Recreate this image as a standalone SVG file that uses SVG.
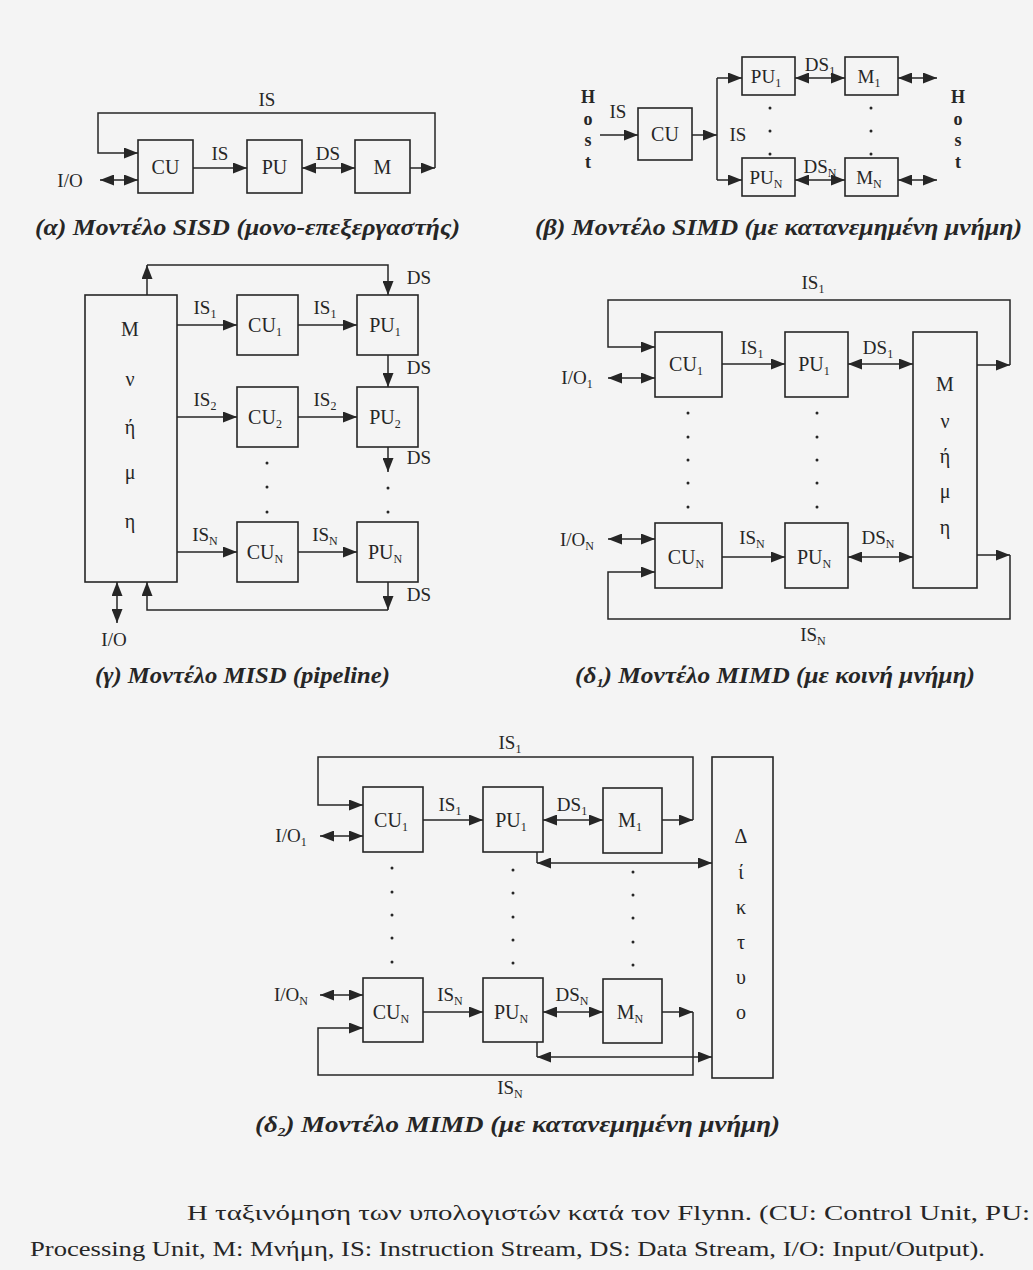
<svg xmlns="http://www.w3.org/2000/svg" width="1033" height="1270" viewBox="0 0 1033 1270">
<style>
.bx{fill:none;stroke:#262626;stroke-width:1.6}
.ln{fill:none;stroke:#262626;stroke-width:1.5}
.t{font-family:"Liberation Serif","Times New Roman",serif;font-size:19px;fill:#262626;text-anchor:middle}
.b{font-size:20px}
.h{font-family:"Liberation Serif","Times New Roman",serif;font-size:18px;font-weight:bold;fill:#262626;text-anchor:middle}
.cap{font-family:"Liberation Serif","Times New Roman",serif;font-size:23px;font-weight:bold;font-style:italic;fill:#262626}
.ft{font-family:"Liberation Serif","Times New Roman",serif;font-size:22px;fill:#262626}
.dot{fill:#262626}
</style>
<defs>
<marker id="a" viewBox="0 0 14 11" refX="14" refY="5.5" markerWidth="14" markerHeight="11" markerUnits="userSpaceOnUse" orient="auto-start-reverse">
<path d="M0,0 L14,5.5 L0,11 z" fill="#262626"/>
</marker>
</defs>
<rect width="1033" height="1270" fill="#f4f4f4"/>

<!-- (α) SISD -->
<g id="sisd">
<g id="a-cu"><rect class="bx" x="138" y="140" width="55" height="53"/><text class="t b" x="165.5" y="174">CU</text></g>
<g id="a-pu"><rect class="bx" x="247" y="140" width="55" height="53"/><text class="t b" x="274.5" y="174">PU</text></g>
<g id="a-m"><rect class="bx" x="355" y="140" width="55" height="53"/><text class="t b" x="382.5" y="174">M</text></g>
<g id="a-conn">
<path class="ln" d="M410,168 H435" marker-end="url(#a)"/>
<path class="ln" d="M435,168 V113 H98 V153 H138" marker-end="url(#a)"/>
<path class="ln" d="M193,168 H247" marker-end="url(#a)"/>
<path class="ln" d="M302,168 H355" marker-start="url(#a)" marker-end="url(#a)"/>
<path class="ln" d="M100,180 H138" marker-start="url(#a)" marker-end="url(#a)"/>
</g>
<text class="t" x="267" y="106">IS</text>
<text class="t" x="220" y="160">IS</text>
<text class="t" x="328" y="160">DS</text>
<text class="t" x="70" y="187">I/O</text>
<text class="cap" x="35" y="235" textLength="425" lengthAdjust="spacingAndGlyphs">(α) Μοντέλο SISD (μονο-επεξεργαστής)</text>
</g>

<!-- (β) SIMD -->
<g id="simd">
<g id="b-hostL"><text class="h" x="588" y="103">H</text><text class="h" x="588" y="125">o</text><text class="h" x="588" y="146">s</text><text class="h" x="588" y="168">t</text></g>
<g id="b-cu"><rect class="bx" x="638" y="108" width="54" height="52"/><text class="t b" x="665" y="141">CU</text></g>
<g id="b-pu1"><rect class="bx" x="742" y="57" width="53" height="38"/><text class="t" x="766" y="83">PU<tspan dy="4" font-size="12">1</tspan></text></g>
<g id="b-pun"><rect class="bx" x="742" y="158" width="53" height="38"/><text class="t" x="766" y="184">PU<tspan dy="4" font-size="12">N</tspan></text></g>
<g id="b-m1"><rect class="bx" x="845" y="57" width="53" height="38"/><text class="t" x="869" y="83">M<tspan dy="4" font-size="12">1</tspan></text></g>
<g id="b-mn"><rect class="bx" x="845" y="158" width="53" height="38"/><text class="t" x="869" y="184">M<tspan dy="4" font-size="12">N</tspan></text></g>
<g id="b-hostR"><text class="h" x="958" y="103">H</text><text class="h" x="958" y="125">o</text><text class="h" x="958" y="146">s</text><text class="h" x="958" y="168">t</text></g>
<g id="b-conn">
<path class="ln" d="M600,135 H638" marker-end="url(#a)"/>
<path class="ln" d="M692,135 H717" marker-end="url(#a)"/>
<path class="ln" d="M717,78 V180"/>
<path class="ln" d="M717,78 H742" marker-end="url(#a)"/>
<path class="ln" d="M717,180 H742" marker-end="url(#a)"/>
<path class="ln" d="M795,78 H845" marker-start="url(#a)" marker-end="url(#a)"/>
<path class="ln" d="M795,180 H845" marker-start="url(#a)" marker-end="url(#a)"/>
<path class="ln" d="M898,78 H937" marker-start="url(#a)" marker-end="url(#a)"/>
<path class="ln" d="M898,180 H937" marker-start="url(#a)" marker-end="url(#a)"/>
</g>
<text class="t" x="618" y="118">IS</text>
<text class="t" x="738" y="141">IS</text>
<text class="t" x="820" y="71">DS<tspan dy="4" font-size="12">1</tspan></text>
<text class="t" x="820" y="173">DS<tspan dy="4" font-size="12">N</tspan></text>
<circle class="dot" cx="770" cy="108" r="1.5"/><circle class="dot" cx="770" cy="131" r="1.5"/><circle class="dot" cx="770" cy="154" r="1.5"/>
<circle class="dot" cx="871" cy="108" r="1.5"/><circle class="dot" cx="871" cy="131" r="1.5"/><circle class="dot" cx="871" cy="154" r="1.5"/>
<text class="cap" x="535" y="235" textLength="487" lengthAdjust="spacingAndGlyphs">(β) Μοντέλο SIMD (με κατανεμημένη μνήμη)</text>
</g>

<!-- (γ) MISD -->
<g id="misd">
<g id="g-mem"><rect class="bx" x="85" y="295" width="92" height="287"/>
<text class="t b" x="130" y="336">M</text><text class="t b" x="130" y="386">ν</text><text class="t b" x="130" y="434">ή</text><text class="t b" x="130" y="479">μ</text><text class="t b" x="130" y="528">η</text></g>
<g id="g-cu1"><rect class="bx" x="237" y="295" width="61" height="60"/><text class="t b" x="265" y="332">CU<tspan dy="4" font-size="12">1</tspan></text></g>
<g id="g-pu1"><rect class="bx" x="357" y="295" width="61" height="60"/><text class="t b" x="385" y="332">PU<tspan dy="4" font-size="12">1</tspan></text></g>
<g id="g-cu2"><rect class="bx" x="237" y="387" width="61" height="60"/><text class="t b" x="265" y="424">CU<tspan dy="4" font-size="12">2</tspan></text></g>
<g id="g-pu2"><rect class="bx" x="357" y="387" width="61" height="60"/><text class="t b" x="385" y="424">PU<tspan dy="4" font-size="12">2</tspan></text></g>
<g id="g-cun"><rect class="bx" x="237" y="522" width="61" height="60"/><text class="t b" x="265" y="559">CU<tspan dy="4" font-size="12">N</tspan></text></g>
<g id="g-pun"><rect class="bx" x="357" y="522" width="61" height="60"/><text class="t b" x="385" y="559">PU<tspan dy="4" font-size="12">N</tspan></text></g>
<g id="g-conn">
<path class="ln" d="M177,325 H237" marker-end="url(#a)"/>
<path class="ln" d="M177,417 H237" marker-end="url(#a)"/>
<path class="ln" d="M177,552 H237" marker-end="url(#a)"/>
<path class="ln" d="M298,325 H357" marker-end="url(#a)"/>
<path class="ln" d="M298,417 H357" marker-end="url(#a)"/>
<path class="ln" d="M298,552 H357" marker-end="url(#a)"/>
<path class="ln" d="M147,295 V265" marker-end="url(#a)"/>
<path class="ln" d="M147,265 H388 V295" marker-end="url(#a)"/>
<path class="ln" d="M388,355 V387" marker-end="url(#a)"/>
<path class="ln" d="M388,447 V472" marker-end="url(#a)"/>
<path class="ln" d="M388,582 V610" marker-end="url(#a)"/>
<path class="ln" d="M388,610 H147 V582" marker-end="url(#a)"/>
<path class="ln" d="M117,582 V623" marker-start="url(#a)" marker-end="url(#a)"/>
</g>
<text class="t" x="205" y="314">IS<tspan dy="4" font-size="12">1</tspan></text>
<text class="t" x="325" y="314">IS<tspan dy="4" font-size="12">1</tspan></text>
<text class="t" x="205" y="406">IS<tspan dy="4" font-size="12">2</tspan></text>
<text class="t" x="325" y="406">IS<tspan dy="4" font-size="12">2</tspan></text>
<text class="t" x="205" y="541">IS<tspan dy="4" font-size="12">N</tspan></text>
<text class="t" x="325" y="541">IS<tspan dy="4" font-size="12">N</tspan></text>
<text class="t" x="419" y="284">DS</text>
<text class="t" x="419" y="374">DS</text>
<text class="t" x="419" y="464">DS</text>
<text class="t" x="419" y="601">DS</text>
<text class="t" x="114" y="646">I/O</text>
<circle class="dot" cx="267" cy="463" r="1.5"/><circle class="dot" cx="267" cy="487" r="1.5"/><circle class="dot" cx="267" cy="512" r="1.5"/>
<circle class="dot" cx="388" cy="488" r="1.5"/><circle class="dot" cx="388" cy="512" r="1.5"/>
<text class="cap" x="95" y="683" textLength="295" lengthAdjust="spacingAndGlyphs">(γ) Μοντέλο MISD (pipeline)</text>
</g>

<!-- (δ1) MIMD shared memory -->
<g id="mimd1">
<g id="d1-cu1"><rect class="bx" x="655" y="332" width="67" height="65"/><text class="t b" x="686" y="371">CU<tspan dy="4" font-size="12">1</tspan></text></g>
<g id="d1-pu1"><rect class="bx" x="785" y="332" width="63" height="65"/><text class="t b" x="814" y="371">PU<tspan dy="4" font-size="12">1</tspan></text></g>
<g id="d1-cun"><rect class="bx" x="655" y="523" width="67" height="65"/><text class="t b" x="686" y="564">CU<tspan dy="4" font-size="12">N</tspan></text></g>
<g id="d1-pun"><rect class="bx" x="785" y="523" width="63" height="65"/><text class="t b" x="814" y="564">PU<tspan dy="4" font-size="12">N</tspan></text></g>
<g id="d1-mem"><rect class="bx" x="913" y="332" width="64" height="256"/>
<text class="t b" x="945" y="391">M</text><text class="t b" x="945" y="428">ν</text><text class="t b" x="945" y="463">ή</text><text class="t b" x="945" y="498">μ</text><text class="t b" x="945" y="534">η</text></g>
<g id="d1-conn">
<path class="ln" d="M977,365 H1010" marker-end="url(#a)"/>
<path class="ln" d="M1010,365 V300 H608 V347 H655" marker-end="url(#a)"/>
<path class="ln" d="M722,364 H785" marker-end="url(#a)"/>
<path class="ln" d="M848,364 H913" marker-start="url(#a)" marker-end="url(#a)"/>
<path class="ln" d="M608,378 H655" marker-start="url(#a)" marker-end="url(#a)"/>
<path class="ln" d="M722,557 H785" marker-end="url(#a)"/>
<path class="ln" d="M848,557 H913" marker-start="url(#a)" marker-end="url(#a)"/>
<path class="ln" d="M608,539 H655" marker-start="url(#a)" marker-end="url(#a)"/>
<path class="ln" d="M977,555 H1010" marker-end="url(#a)"/>
<path class="ln" d="M1010,555 V619 H608 V572 H655" marker-end="url(#a)"/>
</g>
<text class="t" x="813" y="289">IS<tspan dy="4" font-size="12">1</tspan></text>
<text class="t" x="752" y="354">IS<tspan dy="4" font-size="12">1</tspan></text>
<text class="t" x="878" y="354">DS<tspan dy="4" font-size="12">1</tspan></text>
<text class="t" x="577" y="384">I/O<tspan dy="4" font-size="12">1</tspan></text>
<text class="t" x="752" y="544">IS<tspan dy="4" font-size="12">N</tspan></text>
<text class="t" x="878" y="544">DS<tspan dy="4" font-size="12">N</tspan></text>
<text class="t" x="577" y="546">I/O<tspan dy="4" font-size="12">N</tspan></text>
<text class="t" x="813" y="641">IS<tspan dy="4" font-size="12">N</tspan></text>
<circle class="dot" cx="688" cy="413" r="1.5"/><circle class="dot" cx="688" cy="437" r="1.5"/><circle class="dot" cx="688" cy="460" r="1.5"/><circle class="dot" cx="688" cy="483" r="1.5"/><circle class="dot" cx="688" cy="507" r="1.5"/>
<circle class="dot" cx="817" cy="413" r="1.5"/><circle class="dot" cx="817" cy="437" r="1.5"/><circle class="dot" cx="817" cy="460" r="1.5"/><circle class="dot" cx="817" cy="483" r="1.5"/><circle class="dot" cx="817" cy="507" r="1.5"/>
<text class="cap" x="575" y="683" textLength="400" lengthAdjust="spacingAndGlyphs">(δ<tspan dy="4" font-size="13">1</tspan><tspan dy="-4">) Μοντέλο MIMD (με κοινή μνήμη)</tspan></text>
</g>

<!-- (δ2) MIMD distributed memory -->
<g id="mimd2">
<g id="d2-cu1"><rect class="bx" x="363" y="787" width="60" height="65"/><text class="t b" x="391" y="827">CU<tspan dy="4" font-size="12">1</tspan></text></g>
<g id="d2-pu1"><rect class="bx" x="483" y="787" width="60" height="65"/><text class="t b" x="511" y="827">PU<tspan dy="4" font-size="12">1</tspan></text></g>
<g id="d2-m1"><rect class="bx" x="603" y="788" width="59" height="65"/><text class="t b" x="630" y="827">M<tspan dy="4" font-size="12">1</tspan></text></g>
<g id="d2-cun"><rect class="bx" x="363" y="978" width="60" height="64"/><text class="t b" x="391" y="1019">CU<tspan dy="4" font-size="12">N</tspan></text></g>
<g id="d2-pun"><rect class="bx" x="483" y="978" width="60" height="64"/><text class="t b" x="511" y="1019">PU<tspan dy="4" font-size="12">N</tspan></text></g>
<g id="d2-mn"><rect class="bx" x="603" y="979" width="59" height="64"/><text class="t b" x="630" y="1019">M<tspan dy="4" font-size="12">N</tspan></text></g>
<g id="d2-net"><rect class="bx" x="712" y="757" width="61" height="321"/>
<text class="t b" x="741" y="843">Δ</text><text class="t b" x="741" y="879">ί</text><text class="t b" x="741" y="914">κ</text><text class="t b" x="741" y="949">τ</text><text class="t b" x="741" y="984">υ</text><text class="t b" x="741" y="1019">ο</text></g>
<g id="d2-conn">
<path class="ln" d="M662,820 H693" marker-end="url(#a)"/>
<path class="ln" d="M693,820 V757 H318 V805 H363" marker-end="url(#a)"/>
<path class="ln" d="M423,820 H483" marker-end="url(#a)"/>
<path class="ln" d="M543,820 H603" marker-start="url(#a)" marker-end="url(#a)"/>
<path class="ln" d="M320,836 H363" marker-start="url(#a)" marker-end="url(#a)"/>
<path class="ln" d="M537,852 V863"/>
<path class="ln" d="M537,863 H712" marker-start="url(#a)" marker-end="url(#a)"/>
<path class="ln" d="M423,1012 H483" marker-end="url(#a)"/>
<path class="ln" d="M543,1012 H603" marker-start="url(#a)" marker-end="url(#a)"/>
<path class="ln" d="M320,995 H363" marker-start="url(#a)" marker-end="url(#a)"/>
<path class="ln" d="M662,1012 H693" marker-end="url(#a)"/>
<path class="ln" d="M693,1012 V1075 H318 V1028 H363" marker-end="url(#a)"/>
<path class="ln" d="M537,1042 V1057"/>
<path class="ln" d="M537,1057 H712" marker-start="url(#a)" marker-end="url(#a)"/>
</g>
<text class="t" x="510" y="749">IS<tspan dy="4" font-size="12">1</tspan></text>
<text class="t" x="450" y="811">IS<tspan dy="4" font-size="12">1</tspan></text>
<text class="t" x="572" y="811">DS<tspan dy="4" font-size="12">1</tspan></text>
<text class="t" x="291" y="842">I/O<tspan dy="4" font-size="12">1</tspan></text>
<text class="t" x="450" y="1001">IS<tspan dy="4" font-size="12">N</tspan></text>
<text class="t" x="572" y="1001">DS<tspan dy="4" font-size="12">N</tspan></text>
<text class="t" x="291" y="1001">I/O<tspan dy="4" font-size="12">N</tspan></text>
<text class="t" x="510" y="1094">IS<tspan dy="4" font-size="12">N</tspan></text>
<circle class="dot" cx="392" cy="868" r="1.5"/><circle class="dot" cx="392" cy="892" r="1.5"/><circle class="dot" cx="392" cy="915" r="1.5"/><circle class="dot" cx="392" cy="938" r="1.5"/><circle class="dot" cx="392" cy="962" r="1.5"/>
<circle class="dot" cx="513" cy="870" r="1.5"/><circle class="dot" cx="513" cy="893" r="1.5"/><circle class="dot" cx="513" cy="917" r="1.5"/><circle class="dot" cx="513" cy="940" r="1.5"/><circle class="dot" cx="513" cy="963" r="1.5"/>
<circle class="dot" cx="633" cy="872" r="1.5"/><circle class="dot" cx="633" cy="895" r="1.5"/><circle class="dot" cx="633" cy="918" r="1.5"/><circle class="dot" cx="633" cy="942" r="1.5"/><circle class="dot" cx="633" cy="965" r="1.5"/>
<text class="cap" x="255" y="1132" textLength="525" lengthAdjust="spacingAndGlyphs">(δ<tspan dy="4" font-size="13">2</tspan><tspan dy="-4">) Μοντέλο MIMD (με κατανεμημένη μνήμη)</tspan></text>
</g>

<!-- footer -->
<text class="ft" x="187" y="1220" textLength="843" lengthAdjust="spacingAndGlyphs">Η ταξινόμηση των υπολογιστών κατά τον Flynn. (CU: Control Unit, PU:</text>
<text class="ft" x="30" y="1256" textLength="955" lengthAdjust="spacingAndGlyphs">Processing Unit, M: Μνήμη, IS: Instruction Stream, DS: Data Stream, I/O: Input/Output).</text>
</svg>
